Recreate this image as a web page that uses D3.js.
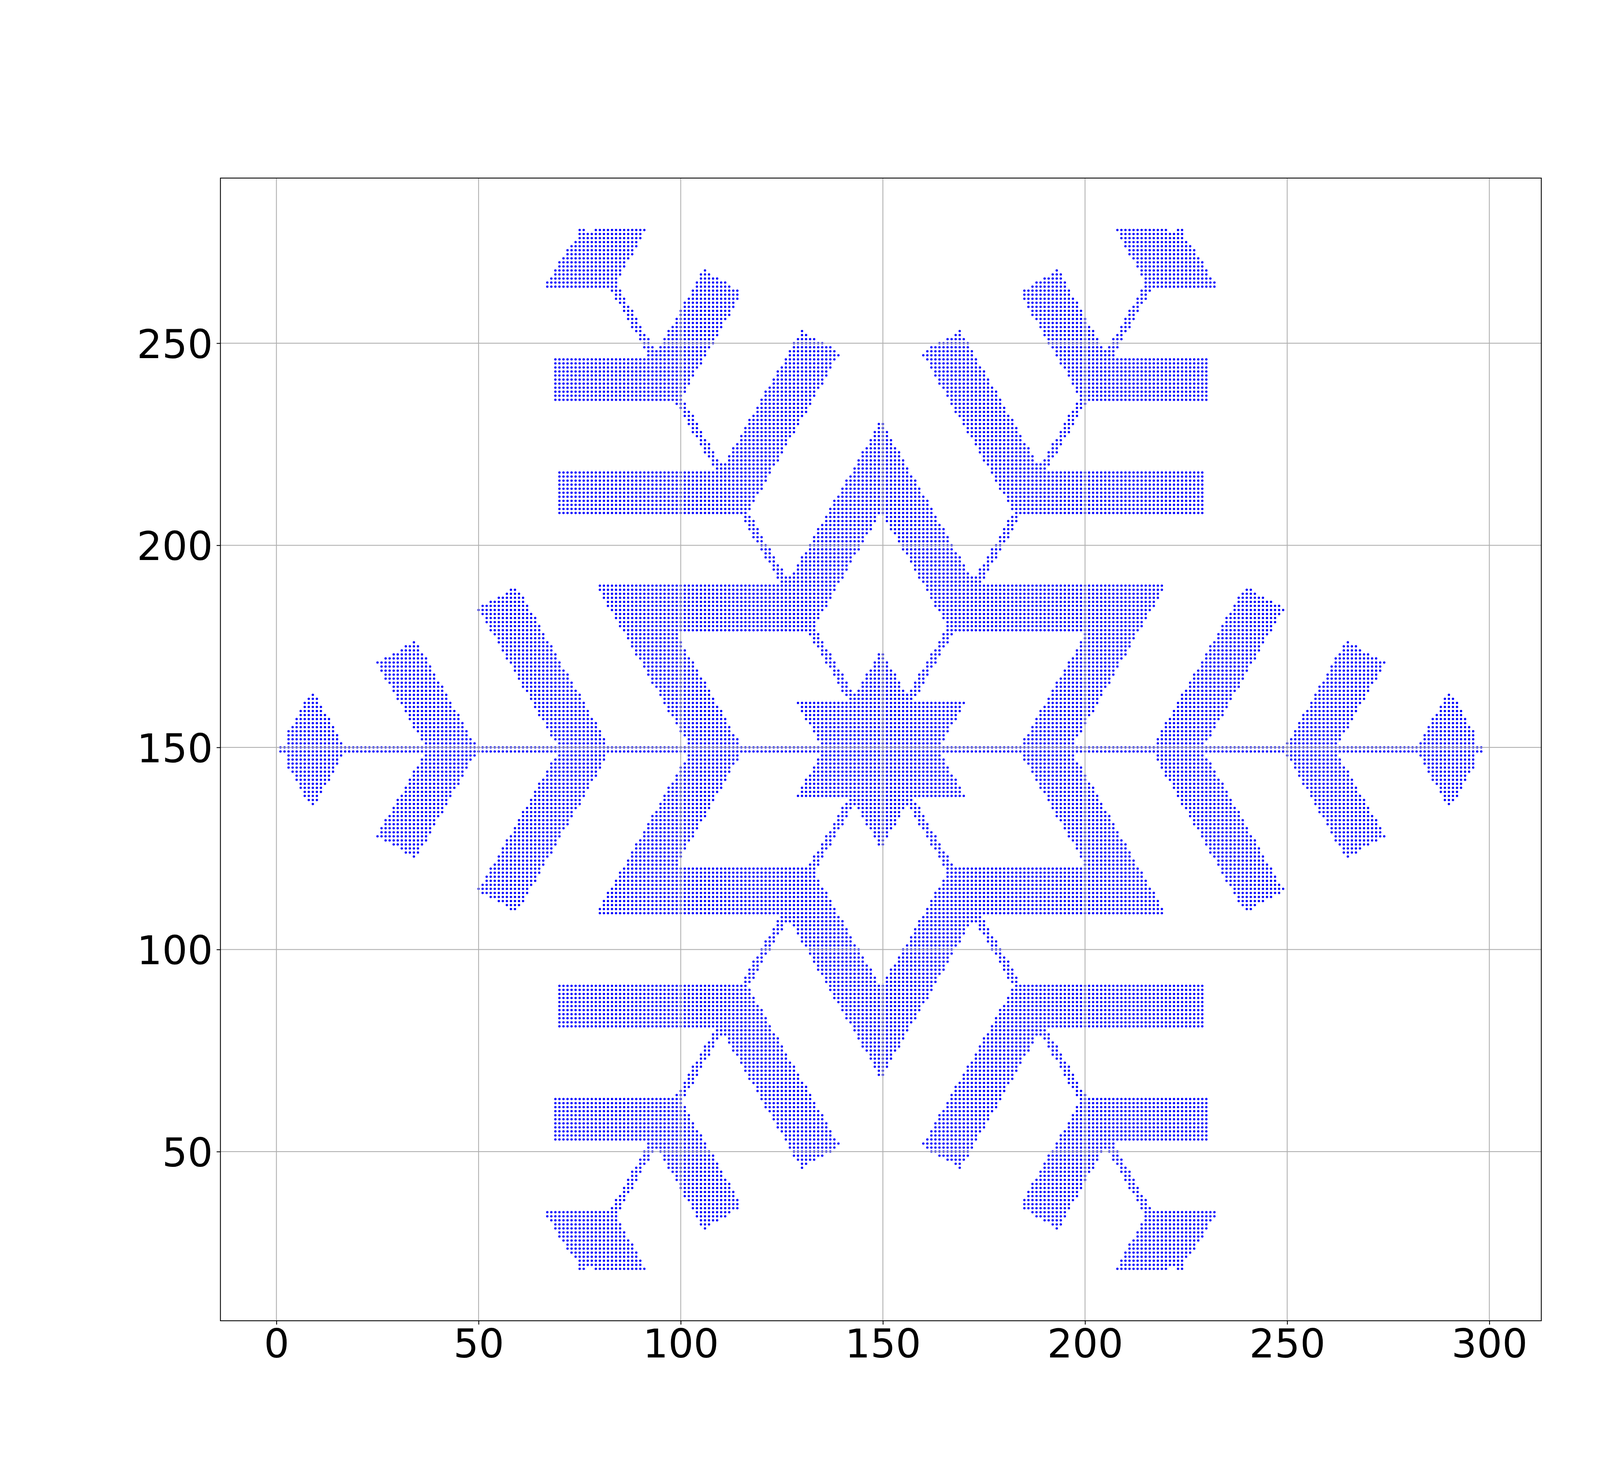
<!DOCTYPE html>
<html>
<head>
<meta charset="utf-8">
<script src="https://cdn.jsdelivr.net/npm/d3@7"></script>
<style>
  body { margin: 0; background: #fff; }
  svg text { font-family: "DejaVu Sans", sans-serif; }
</style>
</head>
<body>
<svg id="chart" width="4400" height="3800"></svg>
<script>
/* ── Shape data (grid units, arm frame) ──────────────────────────────
   The flake is six-fold and mirror symmetric about its centre, so one
   half-arm (angle 0..30°) is described; u runs along the arm, v across. */
const CENTER      = [149.5, 149.5];
const LATTICE_X   = [0, 299];            /* integer grid that was sampled */
const LATTICE_Y   = [0, 299];
const SPINE_HALF  = 1.05;                /* thin centre line of each arm */
const SPINE_LEN   = 149.2;
const STAR_R      = 24.8;                /* hexagram at the middle */
const BRANCH_NEAR = [33.96, 66.7, 99.5]; /* 60° side branches: inner edge */
const BRANCH_FAR  = [47.04, 79.6, 112.4];/* outer edge */
const BRANCH_END  = [Infinity, 80.0, 80.9]; /* end cap (first one runs to the fold) */
const TIP_NEAR    = 132.15;              /* kite at the end of the arm */
const TIP_FAR     = 149.2;
const TIP_CLIP    = 146.9;

const X_TICKS = [0, 50, 100, 150, 200, 250, 300];
const Y_TICKS = [50, 100, 150, 200, 250];

/* ── Membership test: fold the point into the 0..30° wedge ─────────── */
const S3 = Math.sqrt(3);
function inFlake(px, py) {
  const dx = px - CENTER[0], dy = py - CENTER[1];
  const r = Math.hypot(dx, dy);
  const sector = Math.PI / 3;
  let a = Math.atan2(dy, dx);
  a = ((a % sector) + sector) % sector;
  if (a > sector / 2) a = sector - a;
  const u = r * Math.cos(a), v = r * Math.sin(a);

  if (v <= SPINE_HALF && u <= SPINE_LEN) return true;
  if (u - v / S3 <= STAR_R / S3) return true;
  const slant = u - v / S3;
  const along = 0.5 * u + (S3 / 2) * v;
  for (let i = 0; i < BRANCH_NEAR.length; i++) {
    if (slant >= BRANCH_NEAR[i] && slant <= BRANCH_FAR[i] && along <= BRANCH_END[i]) return true;
  }
  if (slant >= TIP_NEAR && u + v / S3 <= TIP_FAR && u <= TIP_CLIP) return true;
  return false;
}

const points = [];
for (let px = LATTICE_X[0]; px <= LATTICE_X[1]; px++) {
  for (let py = LATTICE_Y[0]; py <= LATTICE_Y[1]; py++) {
    if (inFlake(px, py)) points.push([px, py]);
  }
}

/* ── Layout: default figure box, equal aspect, 5% data margins ─────── */
const W = 4400, H = 3800;
const box = { l: 0.125 * W, r: 0.9 * W, t: 0.12 * H, b: 0.89 * H };
const padDom = e => [e[0] - 0.05 * (e[1] - e[0]), e[1] + 0.05 * (e[1] - e[0])];
const xDom = padDom(d3.extent(points, d => d[0]));
const yDom = padDom(d3.extent(points, d => d[1]));
const k = Math.min((box.r - box.l) / (xDom[1] - xDom[0]), (box.b - box.t) / (yDom[1] - yDom[0]));
const pw = k * (xDom[1] - xDom[0]), ph = k * (yDom[1] - yDom[0]);
const plotLeft = (box.l + box.r) / 2 - pw / 2;
const plotTop  = (box.t + box.b) / 2 - ph / 2;

const x = d3.scaleLinear().domain(xDom).range([plotLeft, plotLeft + pw]);
const y = d3.scaleLinear().domain(yDom).range([plotTop + ph, plotTop]);

const svg = d3.select("#chart");
svg.append("rect").attr("width", W).attr("height", H).attr("fill", "#fff");

/* ── Points ───────────────────────────────────────────────────────── */
svg.append("g").attr("class", "points")
  .selectAll("circle")
  .data(points)
  .enter().append("circle")
    .attr("cx", d => x(d[0]))
    .attr("cy", d => y(d[1]))
    .attr("r", 3)
    .attr("fill", "#0000ff");

/* ── Grid (drawn over the dots, as in the reference) ──────────────── */
const grid = svg.append("g").attr("class", "grid")
  .attr("stroke", "#b0b0b0").attr("stroke-width", 2.2);
grid.selectAll("line.gx").data(X_TICKS)
  .enter().append("line")
    .attr("x1", d => x(d)).attr("x2", d => x(d))
    .attr("y1", plotTop).attr("y2", plotTop + ph);
grid.selectAll("line.gy").data(Y_TICKS)
  .enter().append("line")
    .attr("y1", d => y(d)).attr("y2", d => y(d))
    .attr("x1", plotLeft).attr("x2", plotLeft + pw);

/* ── Axes ─────────────────────────────────────────────────────────── */
const FS = 102;
const xAxis = svg.append("g")
  .attr("transform", `translate(0,${plotTop + ph})`)
  .call(d3.axisBottom(x).tickValues(X_TICKS).tickSize(9.7).tickPadding(9.7));
const yAxis = svg.append("g")
  .attr("transform", `translate(${plotLeft},0)`)
  .call(d3.axisLeft(y).tickValues(Y_TICKS).tickSize(9.7).tickPadding(9.7));

[xAxis, yAxis].forEach(g => {
  g.select(".domain").remove();
  g.selectAll(".tick line").attr("stroke", "#000").attr("stroke-width", 2.2);
  g.selectAll(".tick text")
    .attr("fill", "#000")
    .style("font-size", FS + "px")
    .style("font-family", "'DejaVu Sans', sans-serif");
});
xAxis.selectAll(".tick text").attr("dy", "0.73em");
yAxis.selectAll(".tick text").attr("dy", "0.365em");

/* ── Spines ───────────────────────────────────────────────────────── */
svg.append("rect")
  .attr("x", plotLeft).attr("y", plotTop)
  .attr("width", pw).attr("height", ph)
  .attr("fill", "none")
  .attr("stroke", "#000")
  .attr("stroke-width", 2.2);
</script>
</body>
</html>
